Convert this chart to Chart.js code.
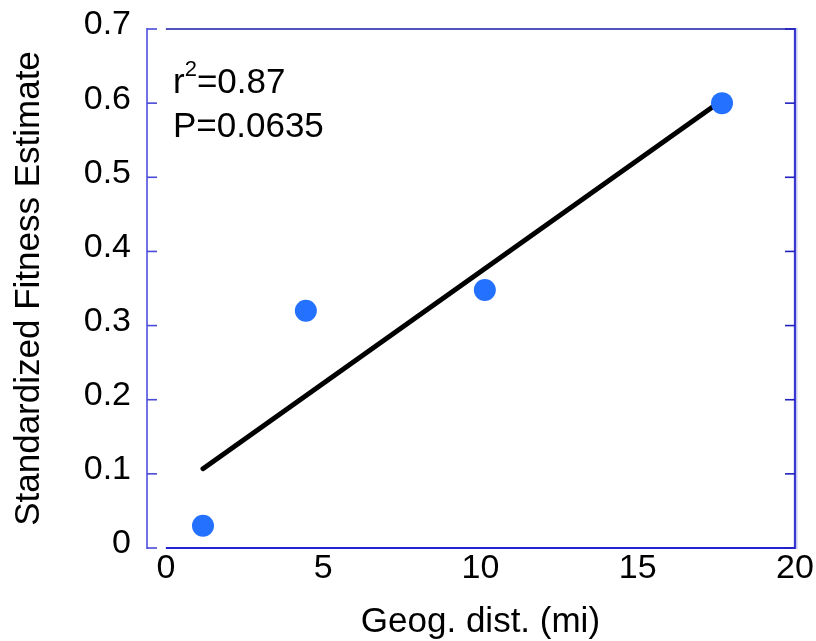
<!DOCTYPE html>
<html>
<head>
<meta charset="utf-8">
<script src="https://cdn.jsdelivr.net/npm/chart.js@4"></script>
<style>
html,body{margin:0;padding:0;background:#fff;}
#wrap{width:816px;height:641px;position:relative;}
</style>
</head>
<body>
<div id="wrap"><canvas id="c" width="816" height="641"></canvas></div>
<script>
const distX = [1.18, 4.45, 10.14, 17.68];
const fitnessY = [0.03, 0.32, 0.348, 0.60];
const fitX = [1.18, 17.68];
const fitY = [0.107, 0.604];
const xTicks = [0, 5, 10, 15, 20];
const yTicks = [0, 0.1, 0.2, 0.3, 0.4, 0.5, 0.6, 0.7];
const xTitle = 'Geog. dist. (mi)';
const yTitle = 'Standardized Fitness Estimate';
const statR = '0.87';
const statP = 'P=0.0635';

const FONT = '"Liberation Sans", Arial, Helvetica, sans-serif';

const framePlugin = {
  id: 'frame',
  beforeDatasetsDraw(chart) {
    const {ctx, scales: {x, y}} = chart;
    const xl = x.getPixelForValue(x.min), xr = x.getPixelForValue(20), x0 = x.getPixelForValue(0);
    const yb = y.getPixelForValue(0), yt = y.getPixelForValue(0.7);
    ctx.save();
    ctx.lineCap = 'butt';
    ctx.strokeStyle = '#1a1aa8'; ctx.lineWidth = 1.6;
    ctx.beginPath(); ctx.moveTo(x0, yt); ctx.lineTo(xr, yt); ctx.stroke();
    ctx.strokeStyle = '#2323d8'; ctx.lineWidth = 2;
    ctx.beginPath(); ctx.moveTo(x0, yb); ctx.lineTo(xr, yb); ctx.stroke();
    ctx.strokeStyle = '#7272e4'; ctx.lineWidth = 2;
    ctx.beginPath(); ctx.moveTo(xl, yb + 1); ctx.lineTo(xl, yt - 1); ctx.stroke();
    ctx.strokeStyle = '#c8c8f4'; ctx.lineWidth = 4;
    ctx.beginPath(); ctx.moveTo(xr + 0.5, yb + 1); ctx.lineTo(xr + 0.5, yt - 1); ctx.stroke();
    ctx.strokeStyle = '#1515c8'; ctx.lineWidth = 1.6;
    ctx.beginPath(); ctx.moveTo(xr, yb + 1); ctx.lineTo(xr, yt - 1); ctx.stroke();
    yTicks.forEach(v => {
      const py = y.getPixelForValue(v);
      ctx.strokeStyle = '#4a4ad8'; ctx.lineWidth = 1.6;
      ctx.beginPath(); ctx.moveTo(xl, py); ctx.lineTo(xl + 10, py); ctx.stroke();
      ctx.strokeStyle = '#2020c0';
      ctx.beginPath(); ctx.moveTo(xr - 10, py); ctx.lineTo(xr, py); ctx.stroke();
    });
    ctx.restore();
  },
  afterDraw(chart) {
    const {ctx, scales: {x, y}} = chart;
    ctx.save();
    ctx.fillStyle = '#000';
    ctx.font = '35px ' + FONT;
    ctx.textAlign = 'center';
    ctx.textBaseline = 'alphabetic';
    ctx.fillText(xTitle, x.getPixelForValue(10), 632);
    ctx.textAlign = 'left';
    const sx = 173;
    ctx.font = '35px ' + FONT;
    ctx.fillText('r', sx, 93);
    const rw = ctx.measureText('r').width;
    ctx.font = '22px ' + FONT;
    ctx.fillText('2', sx + rw, 76);
    const sw = ctx.measureText('2').width;
    ctx.font = '35px ' + FONT;
    ctx.fillText('=' + statR, sx + rw + sw, 93);
    ctx.fillText(statP, sx, 137);
    ctx.restore();
  }
};

new Chart(document.getElementById('c'), {
  type: 'scatter',
  data: {
    datasets: [
      {
        type: 'line',
        data: fitX.map((v, i) => ({x: v, y: fitY[i]})),
        borderColor: '#000',
        borderWidth: 5,
        borderCapStyle: 'round',
        pointRadius: 0,
        fill: false,
        order: 2
      },
      {
        data: distX.map((v, i) => ({x: v, y: fitnessY[i]})),
        backgroundColor: '#2470ff',
        borderWidth: 0,
        pointRadius: 11,
        pointHoverRadius: 11,
        order: 1
      }
    ]
  },
  options: {
    responsive: false,
    animation: false,
    devicePixelRatio: 1,
    layout: {padding: {top: 29, right: 21, left: 0, bottom: 0}},
    plugins: {legend: {display: false}, tooltip: {enabled: false}},
    scales: {
      x: {
        type: 'linear',
        min: -0.6,
        max: 20,
        afterBuildTicks(s) { s.ticks = xTicks.map(v => ({value: v})); },
        afterFit(s) { s.height = 93; s.paddingLeft = 0; s.paddingRight = 0; },
        grid: {display: false, drawTicks: false},
        border: {display: false},
        ticks: {
          font: {family: FONT, size: 34},
          color: '#000',
          padding: 0,
          maxRotation: 0,
          autoSkip: false,
          callback: v => String(v)
        }
      },
      y: {
        type: 'linear',
        min: 0,
        max: 0.7,
        afterBuildTicks(s) { s.ticks = yTicks.map(v => ({value: v})); },
        afterFit(s) { s.width = 147; s.paddingTop = 0; s.paddingBottom = 0; },
        grid: {display: false, drawTicks: false},
        border: {display: false},
        title: {
          display: true,
          text: yTitle,
          color: '#000',
          font: {family: FONT, size: 35},
          padding: {top: 8, bottom: 0}
        },
        ticks: {
          font: {family: FONT, size: 34},
          color: '#000',
          padding: 16,
          labelOffset: -4,
          autoSkip: false,
          callback: v => String(Math.round(v * 10) / 10)
        }
      }
    }
  },
  plugins: [framePlugin]
});
</script>
</body>
</html>
